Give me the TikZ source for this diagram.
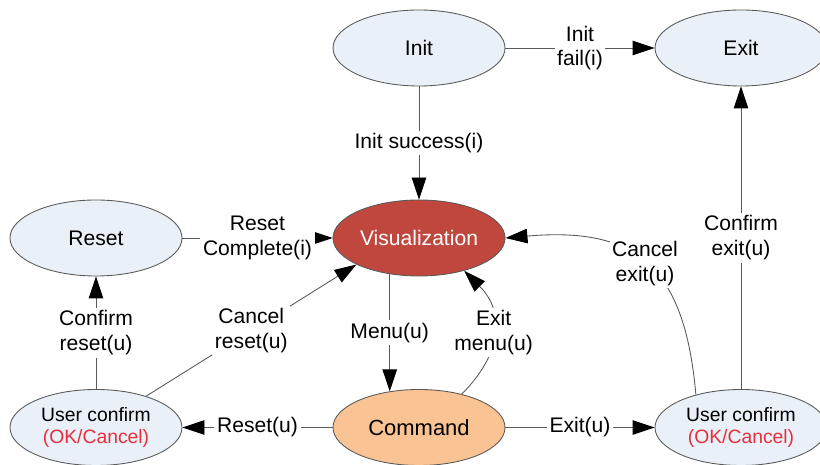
\documentclass[tikz,border=0pt]{standalone}
\usepackage{fontspec}
\setmainfont{Liberation Sans}
\usetikzlibrary{arrows.meta, shapes.geometric, positioning}
\definecolor{stBlue}{HTML}{EAF0F8}
\definecolor{stRed}{HTML}{C0473E}
\definecolor{stOrange}{HTML}{F9C394}
\definecolor{stLine}{HTML}{5A5A5A}
\definecolor{stWarn}{HTML}{E5303C}
\tikzset{
  state/.style    = {ellipse, draw=stLine, line width=0.5pt, fill=stBlue,
                     minimum width=3.44cm, minimum height=1.52cm, inner sep=0pt,
                     font=\fontsize{12}{14}\selectfont, align=center},
  vizstate/.style = {state, fill=stRed, text=white},
  cmdstate/.style = {state, fill=stOrange, font=\fontsize{12.5}{14}\selectfont},
  askstate/.style = {state, font=\fontsize{11}{12.5}\selectfont},
  trans/.style    = {stLine, line width=0.5pt,
                     -{Triangle[length=4.4mm, width=2.9mm, color=black]}},
  tlbl/.style     = {fill=white, inner sep=1.5pt, text=black, align=center,
                     font=\fontsize{12}{14}\selectfont},
}

\begin{document}
\begin{tikzpicture}
  \useasboundingbox (0,0) rectangle (16.4,9.3);
  % states
  \node[state]    (init)  at (8.38,8.34)  {Init};
  \node[state]    (exit)  at (14.82,8.34) {Exit};
  \node[state]    (reset) at (1.92,4.54)  {Reset};
  \node[vizstate] (viz)   at (8.38,4.54)  {Visualization};
  \node[cmdstate] (cmd)   at (8.38,0.75)  {Command};
  \node[askstate] (askr)  at (1.92,0.75)  {User confirm\\\textcolor{stWarn}{(OK/Cancel)}};
  \node[askstate] (askx)  at (14.82,0.75) {User confirm\\\textcolor{stWarn}{(OK/Cancel)}};
  % init transitions
  \draw[trans] (init) -- node[tlbl] {Init\\fail(i)} (exit);
  \draw[trans] (init) -- node[tlbl] {Init success(i)} (viz);
  % reset branch
  \draw[trans] (reset) -- node[tlbl] {Reset\\Complete(i)} (viz);
  \draw[trans] (askr) -- node[tlbl] {Confirm\\reset(u)} (reset);
  \draw[trans] (askr.32) -- node[tlbl] {Cancel\\reset(u)} (viz.203);
  % menu
  \draw[trans] (viz.231) -- node[tlbl] {Menu(u)} (cmd.129);
  \draw[trans] (cmd.38) to[out=45, in=-45, looseness=1.2]
    node[tlbl] {Exit\\menu(u)} (viz.-36);
  \draw[trans] (cmd) -- node[tlbl] {Reset(u)} (askr);
  \draw[trans] (cmd) -- node[tlbl] {Exit(u)} (askx);
  % exit branch
  \draw[trans] (askx) -- node[tlbl] {Confirm\\exit(u)} (exit);
  \draw[trans] (askx.144) to[out=95, in=5, looseness=1.35]
    node[tlbl] {Cancel\\exit(u)} (viz.east);
\end{tikzpicture}
\end{document}
